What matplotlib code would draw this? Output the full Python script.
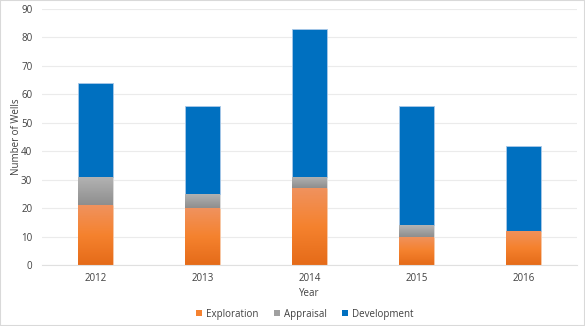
import numpy as np
import matplotlib
matplotlib.use("Agg")
import matplotlib.pyplot as plt
from matplotlib.colors import LinearSegmentedColormap
from matplotlib.patches import Rectangle

years = ["2012", "2013", "2014", "2015", "2016"]
exploration = [21, 20, 27, 10, 12]
appraisal = [10, 5, 4, 4, 0]
development = [33, 31, 52, 42, 30]

plt.rcParams['font.family'] = ['Open Sans', 'DejaVu Sans']

fig = plt.figure(figsize=(5.85, 3.26), dpi=100)
ax = fig.add_axes([42 / 585, 1 - 265 / 326, 535 / 585, 256 / 326])

x = np.arange(len(years))
w = 0.32
expl = np.array(exploration)
appr = np.array(appraisal)
dev = np.array(development)

b1 = ax.bar(x, expl, w, color="#F58230", edgecolor="#F7C9A8", linewidth=0.6, zorder=2)
b2 = ax.bar(x, appr, w, bottom=expl, color="#A0A0A0", edgecolor="#DDDDDD", linewidth=0.6, zorder=2)
b3 = ax.bar(x, dev, w, bottom=expl + appr, color="#0070C0", edgecolor="#A9C8E8", linewidth=0.6, zorder=2)

# gradient fills like the excel original
orange_cm = LinearSegmentedColormap.from_list("o", ["#E56B19", "#F5822E", "#F0925E"])
gray_cm = LinearSegmentedColormap.from_list("g", ["#8E8E8E", "#B4B4B4"])
grad = np.linspace(0, 1, 128).reshape(-1, 1)
for bars, cm in [(b1, orange_cm), (b2, gray_cm)]:
    for p in bars:
        if p.get_height() <= 0:
            continue
        x0, y0 = p.get_x(), p.get_y()
        im = ax.imshow(grad, cmap=cm, origin="lower", aspect="auto",
                       extent=[x0, x0 + p.get_width(), y0, y0 + p.get_height()], zorder=2.5)
        im.set_clip_path(p)

ax.set_xlim(-0.5, len(years) - 0.5)
ax.set_ylim(0, 90)
ax.set_yticks(range(0, 91, 10))
ax.set_xticks(x)
ax.set_xticklabels(years)
ax.grid(axis="y", color="#EBEBEB", linewidth=0.8, zorder=0)
for s in ["top", "right", "left"]:
    ax.spines[s].set_visible(False)
ax.spines["bottom"].set_color("#E0E0E0")
ax.tick_params(length=0, labelsize=7, colors="#404040", pad=6)
ax.tick_params(axis="y", pad=7)
ax.set_xlabel("Year", fontsize=7, color="#404040")
ax.set_ylabel("Number of Wells", fontsize=7, color="#404040")
ax.xaxis.set_label_coords(0.5, -0.09)
ax.yaxis.set_label_coords(-0.038, 0.5)

leg = fig.legend([b1, b2, b3], ["Exploration", "Appraisal", "Development"],
                 loc="center", bbox_to_anchor=(305 / 585, 1 - 314 / 326), ncol=3,
                 frameon=False, fontsize=7, handlelength=0.6, handleheight=0.6,
                 handletextpad=0.4, columnspacing=1.6, labelcolor="#404040")
for h in leg.legend_handles:
    h.set_edgecolor("none")

fig.patches.append(Rectangle((0, 0), 1, 1, transform=fig.transFigure, fill=False,
                             edgecolor="#D9D9D9", linewidth=1.5))
fig.savefig("out.png", dpi=100)
